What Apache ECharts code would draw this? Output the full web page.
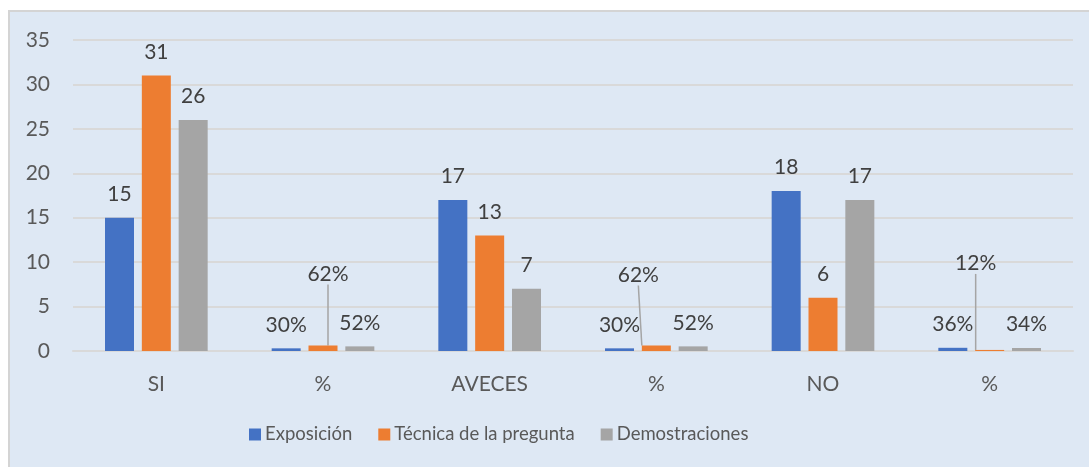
<!DOCTYPE html>
<html>
<head>
<meta charset="utf-8">
<script src="https://cdn.jsdelivr.net/npm/echarts@6/dist/echarts.min.js"></script>
<style>
html,body{margin:0;padding:0;background:#ffffff;}
#chart{width:1089px;height:467px;}
</style>
</head>
<body>
<div id="chart"></div>
<script>
const categories = ['SI', '%', 'AVECES', '%', 'NO', '%'];
const seriesNames = ['Exposición', 'Técnica de la pregunta', 'Demostraciones'];
const exposicion = [15, 0.30, 17, 0.30, 18, 0.36];
const tecnica = [31, 0.62, 13, 0.62, 6, 0.12];
const demostraciones = [26, 0.52, 7, 0.52, 17, 0.34];
const yTicks = [0, 5, 10, 15, 20, 25, 30, 35];

const colors = ['#4472c4', '#ed7d31', '#a5a5a5'];
const FONT = 'Lato, "Open Sans", sans-serif';

// moved labels (with leader line) for the orange series on percent categories
const movedLabels = { 1: [5, -48], 3: [-18, -47], 5: [-14, -63] };

function fmt(p) {
  const v = p.value;
  if (categories[p.dataIndex] === '%') return Math.round(v * 100) + '%';
  return String(v);
}

function makeSeries(name, values, idx) {
  let data = values;
  if (idx === 1) {
    data = values.map(function (v, i) {
      return movedLabels[i] ? { value: v, labelLine: { show: true } } : v;
    });
  }
  const s = {
    name: name,
    type: 'bar',
    data: data,
    barWidth: 29,
    barGap: '27%',
    itemStyle: { color: colors[idx] },
    label: {
      show: true,
      position: 'top',
      distance: 13,
      formatter: fmt,
      color: '#404040',
      fontSize: 21,
      fontFamily: FONT
    },
    labelLine: { show: false, lineStyle: { color: '#a5a5a5', width: 1.5 }, length2: 0 }
  };
  if (idx === 1) {
    s.labelLayout = function (params) {
      const m = movedLabels[params.dataIndex];
      if (m) return { dx: m[0], dy: m[1] };
      return {};
    };
  }
  return s;
}

const chart = echarts.init(document.getElementById('chart'), null, { renderer: 'canvas' });
chart.setOption({
  animation: false,
  backgroundColor: '#ffffff',
  graphic: [{
    type: 'rect',
    left: 8, top: 10,
    shape: { width: 1090, height: 470 },
    style: { fill: '#dee8f4', stroke: '#d4d4d4', lineWidth: 2 },
    z: -10
  }],
  grid: { left: 73, right: 16, top: 40, bottom: 116, containLabel: false },
  legend: {
    data: seriesNames,
    bottom: 18,
    left: 244,
    itemWidth: 12,
    itemHeight: 12,
    itemGap: 26,
    icon: 'rect',
    textStyle: { color: '#595959', fontSize: 18.5, fontFamily: FONT, padding: [0, 0, 0, -1] }
  },
  xAxis: {
    type: 'category',
    data: categories,
    axisLine: { show: true, lineStyle: { color: '#d9d9d9', width: 2 } },
    axisTick: { show: false },
    axisLabel: { color: '#595959', fontSize: 21, fontFamily: FONT, margin: 23 }
  },
  yAxis: {
    type: 'value',
    min: yTicks[0],
    max: yTicks[yTicks.length - 1],
    interval: 5,
    axisLine: { show: false },
    axisTick: { show: false },
    splitLine: { lineStyle: { color: '#d9d9d9', width: 2 } },
    axisLabel: { color: '#595959', fontSize: 21, fontFamily: FONT, margin: 23 }
  },
  series: [
    makeSeries(seriesNames[0], exposicion, 0),
    makeSeries(seriesNames[1], tecnica, 1),
    makeSeries(seriesNames[2], demostraciones, 2)
  ]
});
</script>
</body>
</html>
